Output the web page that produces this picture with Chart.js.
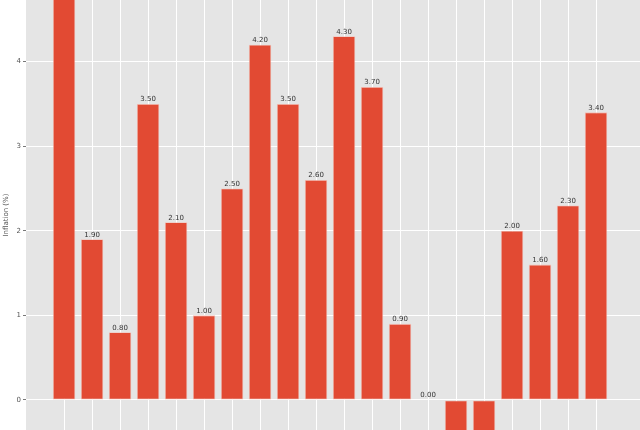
<!DOCTYPE html>
<html>
<head>
<meta charset="utf-8">
<script src="https://cdn.jsdelivr.net/npm/chart.js@4"></script>
<style>
  html, body { margin: 0; padding: 0; background: #fff; }
  #wrap { width: 640px; height: 430px; }
</style>
</head>
<body>
<div id="wrap"><canvas id="inflation_chart"></canvas></div>
<script>
// data (first bar and the two negative ones run off the crop, so estimated)
const categories = ['2000', '2001', '2002', '2003', '2004', '2005', '2006', '2007', '2008', '2009',
                    '2010', '2011', '2012', '2013', '2014', '2015', '2016', '2017', '2018', '2019'];
const inflation = [5.2, 1.9, 0.8, 3.5, 2.1, 1.0, 2.5, 4.2, 3.5, 2.6,
                   4.3, 3.7, 0.9, 0.0, -0.6, -0.5, 2.0, 1.6, 2.3, 3.4];
const y_ticks = [0, 1, 2, 3, 4];

const plot_background = {
    id: 'plot_background',
    beforeDraw(chart) {
        const { ctx, chartArea } = chart;
        ctx.save();
        ctx.fillStyle = '#E5E5E5';
        ctx.fillRect(chartArea.left, chartArea.top, chartArea.right - chartArea.left, chartArea.bottom - chartArea.top);
        ctx.restore();
    }
};

const bar_labels = {
    id: 'bar_labels',
    afterDatasetsDraw(chart) {
        const ctx = chart.ctx;
        const meta = chart.getDatasetMeta(0);
        ctx.save();
        ctx.font = '7px "DejaVu Sans"';
        ctx.fillStyle = '#333';
        ctx.textAlign = 'center';
        meta.data.forEach((bar, i) => {
            const v = inflation[i];
            if (v >= 0) {
                ctx.textBaseline = 'bottom';
                ctx.fillText(v.toFixed(2), bar.x, bar.y - 1);
            } else {
                ctx.textBaseline = 'top';
                ctx.fillText(v.toFixed(2), bar.x, bar.y + 1);
            }
        });
        ctx.restore();
    }
};

new Chart(document.getElementById('inflation_chart'), {
    type: 'bar',
    data: {
        datasets: [{
            label: 'Inflation (%)',
            data: inflation.map((v, i) => ({ x: i, y: v })),
            backgroundColor: '#E24A33',
            borderColor: 'rgba(245, 190, 178, 0.9)',
            borderWidth: 0.8,
            borderSkipped: false,
            barPercentage: 0.8,
            categoryPercentage: 1.0
        }]
    },
    options: {
        responsive: true,
        maintainAspectRatio: false,
        animation: false,
        layout: { padding: 0 },
        plugins: {
            legend: { display: false },
            tooltip: { enabled: false }
        },
        scales: {
            x: {
                type: 'linear',
                offset: false,
                min: -1.36,
                max: 20.57,
                afterBuildTicks(scale) {
                    scale.ticks = categories.map((c, i) => ({ value: i }));
                },
                afterFit(scale) {
                    scale.height = 0;
                    scale.paddingLeft = 0;
                    scale.paddingRight = 0;
                },
                ticks: { display: false },
                grid: { color: '#FFFFFF', lineWidth: 1, tickLength: 0, drawTicks: false, offset: false },
                border: { display: false }
            },
            y: {
                min: -0.355,
                max: 4.728,
                afterBuildTicks(scale) {
                    scale.ticks = y_ticks.map(v => ({ value: v }));
                },
                afterFit(scale) {
                    scale.width = 26;
                    scale.paddingTop = 0;
                    scale.paddingBottom = 0;
                },
                ticks: {
                    color: '#555',
                    padding: 2,
                    font: { family: 'DejaVu Sans', size: 7 },
                    callback: v => String(v)
                },
                grid: { color: '#FFFFFF', lineWidth: 1, tickLength: 3, tickColor: '#777' },
                border: { display: false },
                title: {
                    display: true,
                    text: 'Inflation (%)',
                    color: '#555',
                    font: { family: 'DejaVu Sans', size: 7 },
                    padding: { top: 2, bottom: 0 }
                }
            }
        }
    },
    plugins: [plot_background, bar_labels]
});
</script>
</body>
</html>
